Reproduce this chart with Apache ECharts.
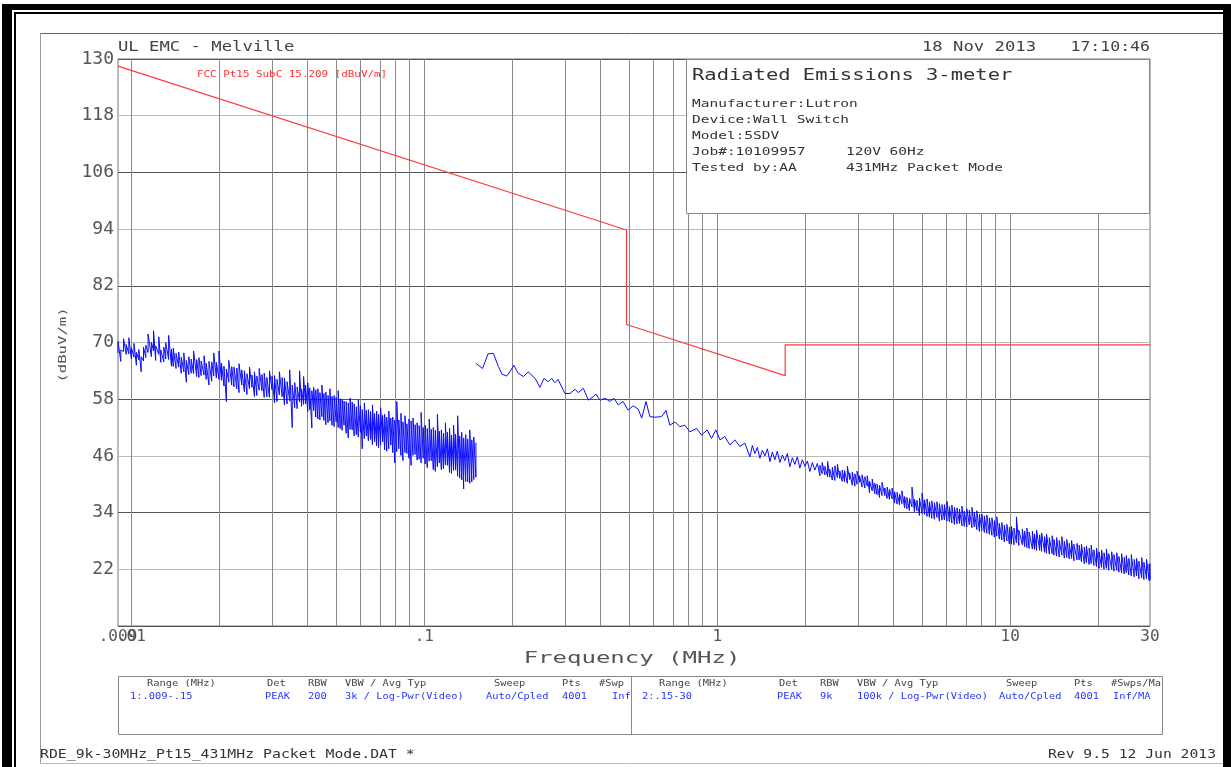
<!DOCTYPE html>
<html>
<head>
<meta charset="utf-8">
<title>Radiated Emissions 3-meter</title>
<script src="https://cdn.jsdelivr.net/npm/echarts@6.0.0/dist/echarts.min.js"></script>
<style>
  html, body { margin: 0; padding: 0; background: #fff; }
  #chart { width: 1231px; height: 767px; }
</style>
</head>
<body>
<div id="chart"></div>
<script>
const MONO = "'DejaVu Sans Mono', monospace";

// x axis, MHz (log scale drawn on log10 values)
const xTickFreqs = [0.009, 0.1, 1, 10, 30];
const xTickLabels = ['.009', '.1', '1', '10', '30'];
// second label row: .01 sits on top of .009 like in the plot
const xTickFreqs2 = [0.01];
const xTickLabels2 = ['.01'];
const gridFreqs = [
  0.01, 0.02, 0.03, 0.04, 0.05, 0.06, 0.07, 0.08, 0.09,
  0.1, 0.2, 0.3, 0.4, 0.5, 0.6, 0.7, 0.8, 0.9,
  1, 2, 3, 4, 5, 6, 7, 8, 9,
  10, 20
];
// y axis, dBuV/m
const yMin = 10, yMax = 130, yStep = 12;

// FCC Pt15 SubC 15.209 limit
const limitFreqs = [0.009, 0.49, 0.49, 1.705, 1.705, 30];
const limitLevels = [128.5, 93.8, 73.8, 63.0, 69.5, 69.5];

// range 1: .009-.15 MHz, peak/pit per display bucket (kHz)
const trace1Khz = [
  9.0, 9.2, 9.4, 9.6, 9.8, 10.0, 10.2, 10.4, 10.6, 10.8,
  11.0, 11.2, 11.4, 11.7, 11.9, 12.1, 12.4, 12.6, 12.9, 13.1,
  13.4, 13.7, 13.9, 14.2, 14.5, 14.8, 15.1, 15.4, 15.7, 16.0,
  16.3, 16.7, 17.0, 17.3, 17.7, 18.0, 18.4, 18.8, 19.1, 19.5,
  19.9, 20.3, 20.7, 21.1, 21.5, 22.0, 22.4, 22.9, 23.3, 23.8,
  24.3, 24.8, 25.3, 25.8, 26.3, 26.8, 27.3, 27.9, 28.4, 29.0,
  29.6, 30.2, 30.8, 31.4, 32.0, 32.7, 33.3, 34.0, 34.7, 35.4,
  36.1, 36.8, 37.5, 38.1, 38.7, 39.3, 40.0, 40.6, 41.3, 41.9,
  42.6, 43.3, 44.0, 44.7, 45.4, 46.1, 46.9, 47.6, 48.4, 49.2,
  50.0, 50.8, 51.6, 52.4, 53.2, 54.1, 55.0, 55.8, 56.7, 57.6,
  58.6, 59.5, 60.5, 61.4, 62.4, 63.4, 64.4, 65.5, 66.5, 67.6,
  68.7, 69.8, 70.9, 72.0, 73.2, 74.4, 75.6, 76.8, 78.0, 79.3,
  80.5, 81.8, 83.2, 84.5, 85.9, 87.2, 88.6, 90.1, 91.5, 93.0,
  94.5, 96.0, 97.5, 99.1, 100.7, 102.3, 103.9, 105.6, 107.3, 109.0,
  110.8, 112.5, 114.3, 116.2, 118.0, 119.9, 121.9, 123.8, 125.8, 127.8,
  129.9, 132.0, 134.1, 136.2, 138.4, 140.6, 142.9, 145.2, 147.5, 150.0
];
const trace1Hi = [
  70.2, 68.4, 70.8, 69.6, 71.0, 68.9, 69.8, 67.9, 68.5, 67.0,
  69.0, 69.4, 71.8, 70.1, 72.5, 69.3, 71.2, 68.4, 69.0, 70.0,
  71.5, 68.6, 68.8, 67.7, 68.0, 66.9, 67.8, 66.2, 67.0, 66.5,
  68.2, 66.4, 66.8, 66.1, 67.2, 65.6, 66.0, 65.9, 67.8, 65.8,
  68.2, 65.6, 65.0, 64.4, 66.2, 64.9, 64.8, 64.6, 65.5, 64.2,
  64.0, 63.4, 64.8, 63.1, 63.8, 62.9, 64.5, 63.2, 63.5, 62.6,
  64.0, 62.9, 63.0, 62.2, 63.8, 62.6, 62.5, 61.7, 64.2, 61.0,
  61.5, 60.6, 64.0, 60.2, 62.8, 61.0, 61.5, 60.4, 59.8, 60.5,
  60.0, 60.2, 59.4, 61.0, 59.2, 59.5, 58.8, 60.2, 58.6, 58.8,
  58.4, 59.8, 58.1, 58.0, 57.6, 57.5, 57.2, 58.2, 57.4, 57.0,
  56.4, 57.8, 56.6, 55.8, 57.2, 55.6, 55.8, 55.4, 56.8, 55.0,
  55.5, 54.8, 56.2, 54.6, 54.8, 54.2, 55.5, 54.0, 54.2, 53.6,
  57.5, 53.6, 55.0, 53.2, 54.5, 52.8, 53.8, 53.4, 54.0, 52.6,
  53.0, 52.4, 55.2, 52.0, 52.5, 51.8, 53.8, 51.6, 52.0, 51.4,
  54.8, 51.2, 51.5, 50.8, 53.0, 51.0, 51.8, 50.4, 52.5, 50.6,
  54.5, 50.2, 51.0, 49.8, 50.5, 49.6, 51.5, 49.4, 50.0, 48.8
];
const trace1Lo = [
  67.8, 66.0, 68.1, 67.5, 67.6, 66.5, 66.9, 65.2, 66.3, 63.8,
  66.1, 66.8, 67.9, 67.0, 68.2, 66.2, 67.5, 65.8, 65.9, 66.5,
  66.4, 65.0, 64.9, 64.5, 64.8, 63.5, 63.8, 61.6, 63.2, 63.5,
  63.4, 62.8, 62.6, 63.0, 63.1, 62.2, 61.0, 61.8, 62.9, 62.5,
  62.2, 62.0, 60.8, 57.5, 61.6, 61.0, 60.6, 60.2, 59.4, 61.0,
  59.6, 59.0, 60.2, 60.5, 58.6, 58.8, 59.9, 59.8, 58.4, 58.5,
  58.4, 60.0, 57.2, 57.5, 58.9, 58.5, 56.8, 57.0, 57.6, 52.0,
  56.2, 56.0, 57.4, 56.5, 56.9, 57.0, 55.4, 55.8, 51.9, 55.6,
  54.2, 53.8, 53.6, 54.3, 53.5, 52.6, 53.0, 53.4, 52.5, 52.2,
  53.2, 52.0, 51.8, 51.4, 52.5, 50.8, 49.8, 51.6, 51.5, 50.2,
  50.5, 50.0, 51.0, 47.5, 49.6, 50.2, 49.2, 49.5, 48.4, 49.0,
  48.1, 47.7, 48.3, 49.0, 47.3, 47.0, 47.5, 48.3, 46.7, 44.5,
  46.9, 47.5, 46.1, 45.0, 46.7, 46.5, 45.5, 44.0, 46.1, 46.3,
  45.1, 45.3, 44.5, 45.5, 44.3, 43.5, 44.9, 45.0, 43.1, 42.7,
  43.7, 44.5, 43.1, 43.3, 44.1, 44.0, 42.5, 42.3, 42.9, 43.0,
  41.7, 41.3, 40.9, 39.0, 40.6, 40.5, 40.2, 40.5, 41.0, 41.5
];

// range 2: .15-30 MHz, single trace up to ~2.2 MHz
const trace2Mhz = [
  0.150, 0.158, 0.165, 0.172, 0.179, 0.184, 0.191, 0.196, 0.202, 0.209,
  0.218, 0.226, 0.239, 0.248, 0.256, 0.265, 0.272, 0.279, 0.286, 0.302,
  0.314, 0.327, 0.335, 0.349, 0.363, 0.377, 0.385, 0.398, 0.414, 0.430,
  0.444, 0.459, 0.477, 0.496, 0.516, 0.537, 0.552, 0.571, 0.589, 0.612,
  0.645, 0.668, 0.689, 0.717, 0.745, 0.775, 0.806, 0.850, 0.884, 0.923,
  0.956, 0.989, 1.021, 1.061, 1.104, 1.148, 1.194, 1.242,
  1.292, 1.318, 1.344, 1.370, 1.398, 1.425, 1.454, 1.483, 1.512, 1.542,
  1.572, 1.603, 1.635, 1.668, 1.701, 1.734, 1.769, 1.804, 1.840, 1.876,
  1.913, 1.951, 1.991, 2.030, 2.070, 2.111, 2.153, 2.196
];
const trace2Level = [
  65.6, 64.5, 67.6, 67.7, 64.9, 63.3, 62.9, 63.8, 65.2, 63.5,
  62.8, 63.8, 62.4, 60.5, 62.4, 61.7, 62.4, 61.5, 62.2, 59.2,
  59.2, 60.1, 59.4, 60.3, 57.8, 58.5, 59.1, 57.8, 58.2, 57.5,
  58.2, 56.8, 57.5, 55.7, 56.6, 55.9, 54.0, 57.5, 54.3, 54.2,
  54.3, 55.6, 52.5, 53.2, 52.2, 52.5, 51.1, 51.8, 50.4, 51.5,
  49.7, 51.5, 49.4, 50.1, 48.3, 49.4, 48.0, 48.7,
  45.8, 48.2, 46.5, 47.8, 45.5, 47.2, 46.0, 47.5, 44.8, 46.8,
  45.2, 47.0, 44.6, 46.2, 45.0, 46.5, 43.7, 45.6, 44.2, 45.8,
  43.4, 45.2, 43.8, 44.9, 42.7, 44.6, 43.0, 44.4
];
// range 2 above ~2.2 MHz, peak/pit per display bucket
const trace2PeakMhz = [
  2.24, 2.28, 2.33, 2.38, 2.42, 2.47, 2.52, 2.57, 2.62, 2.67,
  2.72, 2.78, 2.83, 2.89, 2.95, 3.00, 3.06, 3.12, 3.19, 3.25,
  3.31, 3.38, 3.45, 3.51, 3.58, 3.65, 3.73, 3.80, 3.87, 3.95,
  4.03, 4.11, 4.19, 4.27, 4.36, 4.44, 4.53, 4.62, 4.71, 4.80,
  4.90, 5.00, 5.10, 5.20, 5.30, 5.40, 5.51, 5.62, 5.73, 5.85,
  5.96, 6.08, 6.20, 6.32, 6.45, 6.58, 6.71, 6.84, 6.97, 7.11,
  7.25, 7.40, 7.54, 7.69, 7.85, 8.00, 8.16, 8.32, 8.49, 8.66,
  8.83, 9.00, 9.18, 9.36, 9.55, 9.74, 9.93, 10.1, 10.3, 10.5,
  10.7, 11.0, 11.2, 11.4, 11.6, 11.9, 12.1, 12.3, 12.6, 12.8,
  13.1, 13.3, 13.6, 13.9, 14.1, 14.4, 14.7, 15.0, 15.3, 15.6,
  15.9, 16.2, 16.5, 16.9, 17.2, 17.5, 17.9, 18.2, 18.6, 18.9,
  19.3, 19.7, 20.1, 20.5, 20.9, 21.3, 21.7, 22.2, 22.6, 23.1,
  23.5, 24.0, 24.5, 24.9, 25.4, 25.9, 26.5, 27.0, 27.5, 28.1,
  28.6, 29.2, 29.8, 30.0
];
const trace2PeakHi = [
  44.0, 44.6, 43.8, 44.8, 43.2, 43.6, 43.9, 44.2, 42.8, 43.0,
  42.9, 43.8, 42.4, 42.6, 42.2, 42.8, 41.8, 42.0, 41.6, 41.8,
  40.6, 41.1, 40.2, 40.0, 39.8, 40.4, 39.2, 39.4, 39.0, 39.2,
  38.4, 38.3, 37.9, 38.6, 37.4, 37.2, 37.0, 39.4, 36.8, 36.6,
  37.1, 38.1, 36.7, 36.9, 36.3, 36.5, 36.1, 36.3, 35.9, 35.7,
  35.7, 36.4, 35.3, 35.6, 35.1, 35.0, 34.7, 35.4, 34.3, 34.8,
  34.5, 35.1, 34.1, 34.4, 33.7, 33.7, 33.3, 33.5, 32.9, 32.9,
  32.3, 33.1, 31.7, 31.9, 31.3, 31.5, 30.9, 31.1, 30.7, 33.1,
  30.3, 30.5, 30.1, 30.7, 29.9, 30.1, 29.5, 30.3, 29.3, 29.7,
  28.9, 29.5, 28.7, 29.1, 28.3, 28.7, 28.1, 28.9, 27.9, 28.3,
  27.5, 28.1, 27.3, 27.5, 27.1, 27.3, 26.7, 26.9, 26.5, 27.1,
  26.1, 26.5, 25.7, 26.1, 25.5, 26.3, 25.3, 25.7, 25.1, 25.5,
  24.7, 25.3, 24.5, 24.9, 24.3, 25.1, 24.1, 24.3, 23.7, 24.5,
  23.5, 24.1, 23.1, 23.3
];
const trace2PeakLo = [
  41.8, 42.2, 42.0, 41.6, 41.5, 40.9, 40.8, 41.4, 41.2, 40.6,
  40.5, 40.2, 41.0, 39.8, 39.6, 40.0, 40.4, 39.4, 39.2, 39.6,
  38.2, 38.6, 38.0, 37.8, 37.2, 37.6, 37.6, 37.0, 36.8, 36.9,
  36.0, 35.8, 35.6, 35.9, 35.0, 34.8, 34.4, 35.2, 34.2, 34.4,
  33.4, 33.8, 33.6, 33.2, 33.0, 32.8, 32.6, 33.0, 32.2, 32.4,
  32.5, 32.2, 32.1, 31.8, 31.5, 31.6, 31.7, 31.2, 31.1, 31.0,
  31.4, 30.8, 31.0, 30.4, 30.0, 30.2, 29.8, 29.6, 29.4, 29.2,
  28.8, 29.0, 28.4, 28.2, 27.8, 28.0, 27.4, 27.3, 27.2, 27.6,
  27.0, 27.2, 26.8, 26.6, 26.4, 26.3, 26.2, 26.0, 26.0, 25.8,
  25.6, 25.4, 25.2, 25.3, 25.0, 24.8, 24.6, 25.0, 24.4, 24.5,
  24.2, 24.3, 23.8, 24.0, 24.0, 23.6, 23.2, 23.4, 23.0, 23.2,
  22.8, 22.6, 22.2, 22.4, 22.0, 22.2, 21.8, 22.0, 21.6, 21.8,
  21.4, 21.2, 21.0, 21.3, 20.8, 20.6, 20.4, 20.6, 20.0, 20.2,
  19.8, 20.0, 19.6, 19.8
];

// header / info texts
const infoLines = ['Manufacturer:Lutron', 'Device:Wall Switch', 'Model:5SDV', 'Job#:10109957', 'Tested by:AA'];
const infoLines2 = ['', '', '', '120V 60Hz', '431MHz Packet Mode'];
const tableHead = [
  ['Range (MHz)', 147], ['Det', 267], ['RBW', 308], ['VBW / Avg Typ', 345], ['Sweep', 494], ['Pts', 562], ['#Swp', 599],
  ['Range (MHz)', 659], ['Det', 779], ['RBW', 820], ['VBW / Avg Typ', 857], ['Sweep', 1006], ['Pts', 1074], ['#Swps/Ma', 1111]
];
const tableVals = [
  ['1:.009-.15', 130], ['PEAK', 265], ['200', 308], ['3k / Log-Pwr(Video)', 345], ['Auto/Cpled', 486], ['4001', 562], ['Inf', 612],
  ['2:.15-30', 642], ['PEAK', 777], ['9k', 820], ['100k / Log-Pwr(Video)', 857], ['Auto/Cpled', 999], ['4001', 1074], ['Inf/MA', 1113]
];

const lg = Math.log10;
const toXY = (fs, vs, k) => fs.map((f, i) => [lg(f * k), vs[i]]);
// each display bucket: pit then peak, so the trace scribbles up and down
function buckets(fs, hi, lo, k) {
  const out = [];
  fs.forEach((f, i) => {
    const x = lg(f * k);
    out.push([x, lo[i]], [x, hi[i]]);
  });
  return out;
}

function txt(str, x, y, size, sx, color, align, extra) {
  return Object.assign({
    type: 'text', x: x, y: y, scaleX: sx, z: 60, silent: true,
    style: {
      text: str, fill: color, font: size + 'px ' + MONO,
      textAlign: align || 'left', textVerticalAlign: 'middle',
      align: align || 'left', verticalAlign: 'middle'
    }
  }, extra || {});
}
function box(x, y, w, h, fill, stroke, lw, z) {
  return { type: 'rect', z: z || 55, silent: true, shape: { x: x, y: y, width: w, height: h },
    style: { fill: fill, stroke: stroke, lineWidth: lw || 1 } };
}
function hline(x1, x2, y, color, w) {
  return { type: 'line', z: 55, silent: true, shape: { x1: x1, y1: y, x2: x2, y2: y }, style: { stroke: color, lineWidth: w || 1 } };
}
function vline(x, y1, y2, color, w) {
  return { type: 'line', z: 55, silent: true, shape: { x1: x, y1: y1, x2: x, y2: y2 }, style: { stroke: color, lineWidth: w || 1 } };
}

const graphics = [
  // outer frame
  box(2, 4, 10, 800, '#000', null, 0, 70),
  box(2, 4, 1228, 6, '#000', null, 0, 70),
  box(1223, 4, 8, 800, '#000', null, 0, 70),
  box(14, 12, 2, 800, '#000', null, 0, 70),
  box(14, 12, 1209, 2, '#000', null, 0, 70),
  // page panel
  hline(40, 1223, 33.5, '#666'),
  vline(40.5, 33, 763, '#999'),
  hline(40, 1223, 763.5, '#bbb'),
  // titles
  txt('UL EMC - Melville', 118, 47, 14, 1.23, '#444'),
  txt('18 Nov 2013', 922, 47, 14, 1.23, '#444'),
  txt('17:10:46', 1150, 47, 14, 1.18, '#444', 'right'),
  // info box
  box(686.5, 59.5, 463, 154, '#fff', '#888', 1, 58),
  txt('Radiated Emissions 3-meter', 692, 76, 15.5, 1.32, '#333'),
  txt('FCC Pt15 SubC 15.209 [dBuV/m]', 197, 75, 9, 1.21, '#ff3030'),
  // axis names
  txt('(dBuV/m)', 63, 345, 11, 1.42, '#555', 'center', { rotation: Math.PI / 2 }),
  txt('Frequency (MHz)', 632, 659, 16, 1.5, '#555', 'center'),
  // settings table
  box(118.5, 676.5, 1044, 58, '#fff', '#888', 1, 55),
  vline(631.5, 676, 734, '#888'),
  // file line
  txt('RDE_9k-30MHz_Pt15_431MHz Packet Mode.DAT *', 40, 755, 13, 1.14, '#333'),
  txt('Rev 9.5 12 Jun 2013', 1216, 755, 13, 1.13, '#333', 'right')
];
infoLines.forEach((s, i) => graphics.push(txt(s, 692, 104 + i * 16, 10.5, 1.38, '#333')));
infoLines2.forEach((s, i) => { if (s) graphics.push(txt(s, 846, 104 + i * 16, 10.5, 1.38, '#333')); });
tableHead.forEach(([s, x]) => graphics.push(txt(s, x, 684, 8.5, 1.22, '#444')));
tableVals.forEach(([s, x]) => graphics.push(txt(s, x, 697, 8.5, 1.22, '#2a36ff')));

function freqAxis(freqs, labels) {
  return {
    type: 'value', position: 'bottom', offset: 0, min: lg(0.009), max: lg(30),
    axisLine: { show: false }, axisTick: { show: false }, splitLine: { show: false },
    axisLabel: {
      customValues: freqs.map(lg),
      showMinLabel: true, showMaxLabel: true, hideOverlap: false,
      color: '#555', fontSize: 16, fontFamily: MONO, margin: 3,
      formatter: v => {
        const i = freqs.findIndex(f => Math.abs(lg(f) - v) < 1e-6);
        return i < 0 ? '' : labels[i];
      }
    }
  };
}

const chart = echarts.init(document.getElementById('chart'));
chart.setOption({
  animation: false,
  backgroundColor: '#fff',
  grid: { left: 118, right: 81, top: 59, bottom: 141, show: true, borderColor: '#777', borderWidth: 1 },
  xAxis: [freqAxis(xTickFreqs, xTickLabels), freqAxis(xTickFreqs2, xTickLabels2)],
  yAxis: {
    type: 'value', min: yMin, max: yMax, interval: yStep,
    axisLine: { show: false }, axisTick: { show: false },
    axisLabel: { color: '#555', fontSize: 18, fontFamily: MONO, margin: 4,
      formatter: v => (v === yMin ? '' : String(v)) },
    splitLine: { lineStyle: { color: ['#555', '#bbb'], width: 1 } }
  },
  graphic: graphics,
  series: [
    {
      type: 'line', data: [], silent: true,
      markLine: {
        z: 1, silent: true, symbol: ['none', 'none'], label: { show: false },
        lineStyle: { color: '#8a8a8a', width: 1, type: 'solid' },
        emphasis: { disabled: true },
        data: gridFreqs.map(f => ({ xAxis: lg(f) }))
      }
    },
    {
      name: 'Range 1', type: 'line', data: buckets(trace1Khz, trace1Hi, trace1Lo, 0.001),
      symbol: 'none', silent: true, lineStyle: { color: '#0a0aff', width: 1 }
    },
    {
      name: 'Range 2', type: 'line',
      data: toXY(trace2Mhz, trace2Level, 1).concat(buckets(trace2PeakMhz, trace2PeakHi, trace2PeakLo, 1)),
      symbol: 'none', silent: true, lineStyle: { color: '#0a0aff', width: 1 }
    },
    {
      name: 'FCC Pt15 SubC 15.209', type: 'line', data: toXY(limitFreqs, limitLevels, 1),
      symbol: 'none', silent: true, lineStyle: { color: '#ff3c3c', width: 1.2 }
    }
  ]
});
</script>
</body>
</html>
